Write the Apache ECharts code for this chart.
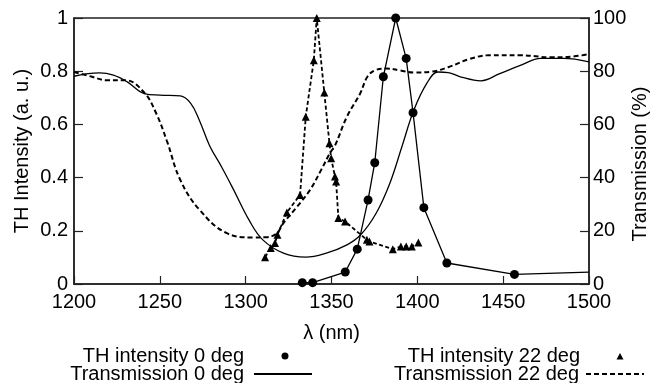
<!DOCTYPE html>
<html>
<head>
<meta charset="utf-8">
<script src="https://cdn.jsdelivr.net/npm/echarts@6/dist/echarts.min.js"></script>
<style>
html,body{margin:0;padding:0;background:#fff;}
#chart{width:651px;height:383px;}
</style>
</head>
<body>
<div id="chart"></div>
<script>
// ---- data ----
var xTicks = [1200, 1250, 1300, 1350, 1400, 1450, 1500];
var leftTicks = [0, 0.2, 0.4, 0.6, 0.8, 1];
var rightTicks = [0, 20, 40, 60, 80, 100];

// TH intensity 0 deg (circles, left axis, a.u.)
var th0Wl  = [1333, 1339, 1358, 1365, 1371.3, 1375.2, 1380.2, 1387.4, 1393.5, 1397.5, 1403.8, 1417.2, 1456.6, 1500];
var th0Val = [0.005, 0.005, 0.045, 0.131, 0.316, 0.456, 0.779, 1.0, 0.848, 0.644, 0.287, 0.079, 0.036, 0.045];

// TH intensity 22 deg (triangles, left axis, a.u.)
var th22Wl  = [1311.3, 1314.6, 1317.1, 1318.5, 1324, 1331.7, 1335, 1339.7, 1341.4, 1345.8, 1348.8, 1349.8, 1352, 1352.7, 1354, 1357.9, 1370.6, 1372.1, 1385.7, 1390.4, 1393.5, 1396.8, 1400.6];
var th22Val = [0.101, 0.135, 0.154, 0.185, 0.269, 0.335, 0.629, 0.841, 1.0, 0.72, 0.529, 0.473, 0.404, 0.385, 0.248, 0.235, 0.166, 0.16, 0.131, 0.141, 0.141, 0.141, 0.156];

// Transmission 0 deg (solid, right axis, %)
var tr0Wl  = [1200, 1207, 1215, 1223, 1231, 1241, 1250, 1262, 1268, 1273, 1279, 1286, 1293, 1302, 1310, 1322, 1335, 1347, 1359, 1367, 1376, 1384, 1391, 1398, 1405.5, 1412, 1418, 1425, 1437, 1448, 1460, 1472, 1485, 1500];
var tr0Val = [78.1, 79, 79.4, 78.5, 76, 71.6, 71, 70.7, 67.9, 61.6, 52, 44, 35.4, 24, 16.6, 11.6, 10.1, 11.6, 14.7, 18.5, 26.6, 37.9, 51.6, 65.4, 75.4, 79.7, 79.5, 77.9, 76.4, 79.1, 82.2, 84.8, 84.8, 83.5];

// Transmission 22 deg (dashed, right axis, %)
var tr22Wl  = [1200, 1210, 1219, 1230, 1241, 1248, 1254, 1262, 1273, 1289, 1304, 1312, 1318, 1322, 1330, 1337.5, 1344, 1349, 1352, 1359, 1366.7, 1371, 1376, 1382, 1390, 1398, 1408, 1418, 1430, 1442, 1460, 1478, 1490, 1500];
var tr22Val = [79.7, 78, 76.6, 76.6, 71.9, 64, 54, 39, 28, 19.1, 17.5, 17.6, 19, 22.9, 29.1, 35.4, 42.9, 49.1, 52, 62.9, 71.6, 78, 80.5, 81, 80.3, 79.5, 79.8, 81.5, 84.5, 86, 86, 85.2, 85.5, 86.4];

var seriesNames = ['TH intensity 0 deg', 'Transmission 0 deg', 'TH intensity 22 deg', 'Transmission 22 deg'];

function pairs(xs, ys) {
  return xs.map(function (x, i) { return [x, ys[i]]; });
}

var FONT = '"Liberation Sans", Arial, Helvetica, sans-serif';
var INK = '#000';
var AXIS = '#222';

var th0Data = pairs(th0Wl, th0Val);
// last point only continues the line to the frame edge (no marker visible)
th0Data[th0Data.length - 1] = { value: th0Data[th0Data.length - 1], symbol: 'none' };

// legend icons: a wide (58x7) box so the marker sits in the middle of the line-icon slot
var ICON_CIRCLE = 'path://M0,0M58,7M26.5,3.5A3.5,3.5,0,1,1,33.5,3.5A3.5,3.5,0,1,1,26.5,3.5Z';
var ICON_TRIANGLE = 'path://M0,0M58,7M29.5,7L33,0.5L36.5,7Z';

function legendItem(name, icon, right, top, gapPad) {
  var d = { name: name };
  if (icon) { d.icon = icon; } else { d.itemStyle = { color: 'rgba(0,0,0,0)', borderWidth: 0 }; }
  return {
    data: [d], orient: 'horizontal', align: 'right', right: right, top: top,
    itemWidth: 58, itemHeight: 7, itemGap: 0, padding: 0, selectedMode: false,
    textStyle: { fontFamily: FONT, fontSize: 20, color: INK, lineHeight: 18, padding: [0, gapPad, 0, 0] }
  };
}

var chart = echarts.init(document.getElementById('chart'), null, { renderer: 'canvas' });
chart.setOption({
  animation: false,
  backgroundColor: '#fff',
  textStyle: { fontFamily: FONT, color: INK },
  grid: {
    left: 74, right: 62, top: 18, bottom: 99,
    containLabel: false, outerBoundsMode: 'none',
    show: true, borderColor: AXIS, borderWidth: 1.5, backgroundColor: 'transparent'
  },
  xAxis: {
    type: 'value', min: xTicks[0], max: xTicks[xTicks.length - 1], interval: 50,
    name: 'λ (nm)', nameLocation: 'middle', nameGap: 39, nameMoveOverlap: false,
    nameTextStyle: { fontFamily: FONT, fontSize: 20, color: INK },
    axisLine: { show: true, lineStyle: { color: AXIS, width: 1.5 } },
    axisTick: { show: true, inside: true, length: 8, lineStyle: { color: AXIS, width: 1.2 } },
    axisLabel: { fontFamily: FONT, fontSize: 20, color: INK, margin: 8, formatter: function (v) { return String(v); } },
    splitLine: { show: false }
  },
  yAxis: [
    {
      type: 'value', min: 0, max: 1, interval: 0.2, position: 'left',
      name: 'TH Intensity (a. u.)', nameLocation: 'middle', nameGap: 42, nameMoveOverlap: false,
      nameTextStyle: { fontFamily: FONT, fontSize: 20, color: INK },
      axisLine: { show: true, lineStyle: { color: AXIS, width: 1.5 } },
      axisTick: { show: true, inside: true, length: 9, lineStyle: { color: AXIS, width: 1.2 } },
      axisLabel: { fontFamily: FONT, fontSize: 20, color: INK, margin: 6, formatter: function (v) { return String(+v.toFixed(1)); } },
      splitLine: { show: false }
    },
    {
      type: 'value', min: 0, max: 100, interval: 20, position: 'right',
      name: 'Transmission (%)', nameLocation: 'middle', nameGap: 41, nameMoveOverlap: false,
      nameTextStyle: { fontFamily: FONT, fontSize: 20, color: INK, padding: [0, 26, 0, 0] },
      axisLine: { show: true, lineStyle: { color: AXIS, width: 1.5 } },
      axisTick: { show: true, inside: true, length: 9, lineStyle: { color: AXIS, width: 1.2 } },
      axisLabel: { fontFamily: FONT, fontSize: 20, color: INK, margin: 4 },
      splitLine: { show: false }
    }
  ],
  legend: [
    legendItem(seriesNames[0], ICON_CIRCLE, 338, 346, 6),
    legendItem(seriesNames[1], null, 338, 364, 5),
    legendItem(seriesNames[2], ICON_TRIANGLE, 6, 346, 2),
    legendItem(seriesNames[3], null, 6, 364, 2)
  ],
  series: [
    {
      name: seriesNames[1], type: 'line', yAxisIndex: 1, smooth: 0.4,
      symbol: 'none', data: pairs(tr0Wl, tr0Val),
      lineStyle: { color: INK, width: 1.3, type: 'solid' }, itemStyle: { color: INK }, z: 2
    },
    {
      name: seriesNames[3], type: 'line', yAxisIndex: 1, smooth: 0.4,
      symbol: 'none', data: pairs(tr22Wl, tr22Val),
      lineStyle: { color: INK, width: 2, type: [5, 3] }, itemStyle: { color: INK }, z: 2
    },
    {
      name: seriesNames[0], type: 'line', yAxisIndex: 0,
      symbol: 'circle', symbolSize: 9, data: th0Data,
      lineStyle: { color: INK, width: 1.3 }, itemStyle: { color: INK }, z: 3
    },
    {
      name: seriesNames[2], type: 'line', yAxisIndex: 0,
      symbol: 'triangle', symbolSize: 8, data: pairs(th22Wl, th22Val),
      lineStyle: { color: INK, width: 1.8, type: [4, 2.5] }, itemStyle: { color: INK }, z: 3
    }
  ]
});
</script>
</body>
</html>
